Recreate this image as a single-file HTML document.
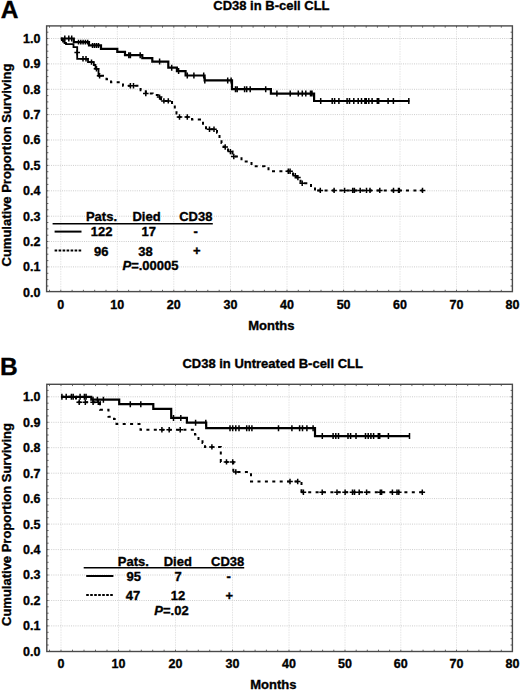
<!DOCTYPE html>
<html><head><meta charset="utf-8"><title>CD38 survival</title>
<style>
html,body{margin:0;padding:0;background:#fff;}
svg{display:block;}
text{font-family:"Liberation Sans", sans-serif;font-weight:bold;fill:#000;stroke:#000;stroke-width:0.35px;}
.tl{font-size:12.5px;}
.ti{font-size:13px;}
.le{font-size:24.5px;}
.mo{font-size:13px;}
.yl{font-size:13px;}
.lg{font-size:13px;}
</style></head>
<body>
<svg width="520" height="691" viewBox="0 0 520 691">
<rect width="520" height="691" fill="#fff"/>
<path d="M60.8,25.9V291.6M117.3,25.9V291.6M173.8,25.9V291.6M230.5,25.9V291.6M287.0,25.9V291.6M343.6,25.9V291.6M400.0,25.9V291.6M456.5,25.9V291.6" stroke="#e4e4e4" stroke-width="1" stroke-dasharray="1.5 1" fill="none"/>
<path d="M46.6,266.9H512.4M46.6,241.5H512.4M46.6,216.2H512.4M46.6,190.8H512.4M46.6,165.4H512.4M46.6,140.0H512.4M46.6,114.6H512.4M46.6,89.3H512.4M46.6,63.9H512.4M46.6,38.5H512.4" stroke="#cdcdcd" stroke-width="1" stroke-dasharray="1 1.2" fill="none"/>
<path d="M49.5,291.6v-1.8M49.5,25.9v1.8M60.8,291.6v-1.8M60.8,25.9v1.8M72.1,291.6v-1.8M72.1,25.9v1.8M83.4,291.6v-1.8M83.4,25.9v1.8M94.7,291.6v-1.8M94.7,25.9v1.8M106.0,291.6v-1.8M106.0,25.9v1.8M117.3,291.6v-1.8M117.3,25.9v1.8M128.6,291.6v-1.8M128.6,25.9v1.8M139.9,291.6v-1.8M139.9,25.9v1.8M151.2,291.6v-1.8M151.2,25.9v1.8M162.5,291.6v-1.8M162.5,25.9v1.8M173.8,291.6v-1.8M173.8,25.9v1.8M185.1,291.6v-1.8M185.1,25.9v1.8M196.5,291.6v-1.8M196.5,25.9v1.8M207.8,291.6v-1.8M207.8,25.9v1.8M219.2,291.6v-1.8M219.2,25.9v1.8M230.5,291.6v-1.8M230.5,25.9v1.8M241.8,291.6v-1.8M241.8,25.9v1.8M253.1,291.6v-1.8M253.1,25.9v1.8M264.4,291.6v-1.8M264.4,25.9v1.8M275.7,291.6v-1.8M275.7,25.9v1.8M287.0,291.6v-1.8M287.0,25.9v1.8M298.3,291.6v-1.8M298.3,25.9v1.8M309.6,291.6v-1.8M309.6,25.9v1.8M321.0,291.6v-1.8M321.0,25.9v1.8M332.3,291.6v-1.8M332.3,25.9v1.8M343.6,291.6v-1.8M343.6,25.9v1.8M354.9,291.6v-1.8M354.9,25.9v1.8M366.2,291.6v-1.8M366.2,25.9v1.8M377.4,291.6v-1.8M377.4,25.9v1.8M388.7,291.6v-1.8M388.7,25.9v1.8M400.0,291.6v-1.8M400.0,25.9v1.8M411.3,291.6v-1.8M411.3,25.9v1.8M422.6,291.6v-1.8M422.6,25.9v1.8M433.9,291.6v-1.8M433.9,25.9v1.8M445.2,291.6v-1.8M445.2,25.9v1.8M456.5,291.6v-1.8M456.5,25.9v1.8M467.7,291.6v-1.8M467.7,25.9v1.8M478.9,291.6v-1.8M478.9,25.9v1.8M490.1,291.6v-1.8M490.1,25.9v1.8M501.3,291.6v-1.8M501.3,25.9v1.8M46.6,286.0h1.8M512.4,286.0h-1.8M46.6,279.6h1.8M512.4,279.6h-1.8M46.6,273.3h1.8M512.4,273.3h-1.8M46.6,266.9h1.8M512.4,266.9h-1.8M46.6,260.6h1.8M512.4,260.6h-1.8M46.6,254.2h1.8M512.4,254.2h-1.8M46.6,247.9h1.8M512.4,247.9h-1.8M46.6,241.5h1.8M512.4,241.5h-1.8M46.6,235.2h1.8M512.4,235.2h-1.8M46.6,228.9h1.8M512.4,228.9h-1.8M46.6,222.5h1.8M512.4,222.5h-1.8M46.6,216.2h1.8M512.4,216.2h-1.8M46.6,209.8h1.8M512.4,209.8h-1.8M46.6,203.5h1.8M512.4,203.5h-1.8M46.6,197.1h1.8M512.4,197.1h-1.8M46.6,190.8h1.8M512.4,190.8h-1.8M46.6,184.4h1.8M512.4,184.4h-1.8M46.6,178.1h1.8M512.4,178.1h-1.8M46.6,171.7h1.8M512.4,171.7h-1.8M46.6,165.4h1.8M512.4,165.4h-1.8M46.6,159.1h1.8M512.4,159.1h-1.8M46.6,152.7h1.8M512.4,152.7h-1.8M46.6,146.4h1.8M512.4,146.4h-1.8M46.6,140.0h1.8M512.4,140.0h-1.8M46.6,133.7h1.8M512.4,133.7h-1.8M46.6,127.3h1.8M512.4,127.3h-1.8M46.6,121.0h1.8M512.4,121.0h-1.8M46.6,114.6h1.8M512.4,114.6h-1.8M46.6,108.3h1.8M512.4,108.3h-1.8M46.6,101.9h1.8M512.4,101.9h-1.8M46.6,95.6h1.8M512.4,95.6h-1.8M46.6,89.3h1.8M512.4,89.3h-1.8M46.6,82.9h1.8M512.4,82.9h-1.8M46.6,76.6h1.8M512.4,76.6h-1.8M46.6,70.2h1.8M512.4,70.2h-1.8M46.6,63.9h1.8M512.4,63.9h-1.8M46.6,57.5h1.8M512.4,57.5h-1.8M46.6,51.2h1.8M512.4,51.2h-1.8M46.6,44.8h1.8M512.4,44.8h-1.8M46.6,38.5h1.8M512.4,38.5h-1.8M46.6,32.2h1.8M512.4,32.2h-1.8" stroke="#666" stroke-width="1" fill="none"/>
<rect x="46.6" y="25.9" width="465.8" height="265.7" fill="none" stroke="#4a4a4a" stroke-width="1.4"/>
<text x="40.4" y="296.7" text-anchor="end" class="tl">0.0</text>
<text x="40.4" y="271.3" text-anchor="end" class="tl">0.1</text>
<text x="40.4" y="245.9" text-anchor="end" class="tl">0.2</text>
<text x="40.4" y="220.6" text-anchor="end" class="tl">0.3</text>
<text x="40.4" y="195.2" text-anchor="end" class="tl">0.4</text>
<text x="40.4" y="169.8" text-anchor="end" class="tl">0.5</text>
<text x="40.4" y="144.4" text-anchor="end" class="tl">0.6</text>
<text x="40.4" y="119.0" text-anchor="end" class="tl">0.7</text>
<text x="40.4" y="93.7" text-anchor="end" class="tl">0.8</text>
<text x="40.4" y="68.3" text-anchor="end" class="tl">0.9</text>
<text x="40.4" y="42.9" text-anchor="end" class="tl">1.0</text>
<text x="60.8" y="308.5" text-anchor="middle" class="tl">0</text>
<text x="117.3" y="308.5" text-anchor="middle" class="tl">10</text>
<text x="173.8" y="308.5" text-anchor="middle" class="tl">20</text>
<text x="230.5" y="308.5" text-anchor="middle" class="tl">30</text>
<text x="287.0" y="308.5" text-anchor="middle" class="tl">40</text>
<text x="343.6" y="308.5" text-anchor="middle" class="tl">50</text>
<text x="400.0" y="308.5" text-anchor="middle" class="tl">60</text>
<text x="456.5" y="308.5" text-anchor="middle" class="tl">70</text>
<text x="512.5" y="308.5" text-anchor="middle" class="tl">80</text>
<text x="271.4" y="9.6" text-anchor="middle" class="ti">CD38 in B-cell CLL</text>
<text x="0.8" y="17.8" class="le">A</text>
<text x="271.3" y="329.7" text-anchor="middle" class="mo">Months</text>
<text transform="translate(11.2,165.0) rotate(-90)" text-anchor="middle" class="yl">Cumulative Proportion Surviving</text>
<path d="M315,190.4H422.5" stroke="#000" stroke-width="2" fill="none" stroke-dasharray="3 4.4" stroke-dashoffset="5.2"/>
<path d="M60.8,38.5H61.8V40H63V41.5H64.5V43H66V44.2H73.5V47.2H77.2V58.8H88V62.1H93.8V65H95.5V68.8H98.5V75.8H101" stroke="#000" stroke-width="1.8" fill="none"/>
<path d="M60.8,38.5H73.8V42.2H89V45.4H101V48.8H117.3V51.8H125V55.2H142.3V58.2H152.3V61.6H168.3V67.7H176.9V71.1H185.6V75.5H204.6V80.4H232V89.2H270.9V93.6H314.1V101H409.5" stroke="#000" stroke-width="2.2" fill="none"/>
<path d="M64.8,35.5v6.0M68.8,35.5v6.0M71.7,35.5v6.0M78.5,39.8v4.8M80.8,39.8v4.8M83.1,39.8v4.8M85.4,39.8v4.8M87.7,39.8v4.8M92.5,42.9v5.0M94.5,42.9v5.0M96.5,42.9v5.0M98.5,42.9v5.0M128.8,52.2v6.0M130.4,52.2v6.0M140.2,52.2v6.0M159.6,58.6v6.0M171.7,64.7v6.0M178.6,68.1v6.0M187.3,72.5v6.0M193.9,72.5v6.0M203.7,72.5v6.0M204.8,77.4v6.0M227.7,77.4v6.0M231.1,77.4v6.0M235.5,86.2v6.0M237.2,86.2v6.0M244.6,86.2v6.0M246.7,86.2v6.0M250.2,86.2v6.0M265.7,86.2v6.0M276.9,90.6v6.0M290.2,90.6v6.0M298.3,90.6v6.0M302.3,90.6v6.0M305.8,90.6v6.0M310.5,90.6v6.0M312.0,90.6v6.0M320.7,98.0v6.0M332.2,98.0v6.0M334.6,98.0v6.0M338.9,98.0v6.0M347.1,98.0v6.0M349.5,98.0v6.0M353.8,98.0v6.0M358.2,98.0v6.0M361.5,98.0v6.0M364.9,98.0v6.0M366.3,98.0v6.0M368.8,98.0v6.0M372.1,98.0v6.0M377.3,98.0v6.0M378.7,98.0v6.0M388.1,98.0v6.0M393.4,98.0v6.0M408.8,98.0v6.0" stroke="#000" stroke-width="1.5" fill="none"/>
<path d="M101,75.8H106.5V79.2H111V82.3H123V85.8H140.6V90.2H145.8V93.6H152.7V95H159.6V97.1H161V100.9H172V104.9H174.8V110H176.5V113.5H178.6V117H192V119.6H200V121H203V124.9H206V129.2H217V132.7H219.5V138.7H221.5V143H223.8V147H228V151.6H232.5V156.5H240V157.2H241.5V161.5H250.5V162H251.5V166.3H264.5V167.2H268.5V171.2H293V175.8H297V177.6H300.5V183.3H311V187.2H315V190.4" stroke="#000" stroke-width="2" fill="none" stroke-dasharray="3 4.4"/>
<path d="M77.2,49.9v5.4M74.4,52.6h5.6M83.0,56.1v5.4M80.2,58.8h5.6M86.0,56.1v5.4M83.2,58.8h5.6M91.5,59.4v5.4M88.7,62.1h5.6M96.5,66.1v5.4M93.7,68.8h5.6M99.6,73.1v5.4M96.8,75.8h5.6M130.4,83.1v5.4M127.6,85.8h5.6M133.5,83.1v5.4M130.7,85.8h5.6M145.8,90.9v5.4M143.0,93.6h5.6M159.6,94.4v5.4M156.8,97.1h5.6M163.9,98.2v5.4M161.1,100.9h5.6M168.3,98.2v5.4M165.5,100.9h5.6M179.5,114.3v5.4M176.7,117.0h5.6M187.3,114.3v5.4M184.5,117.0h5.6M209.5,126.5v5.4M206.7,129.2h5.6M214.0,126.5v5.4M211.2,129.2h5.6M225.2,144.3v5.4M222.4,147.0h5.6M230.4,148.9v5.4M227.6,151.6h5.6M233.8,153.8v5.4M231.0,156.5h5.6M288.3,168.5v5.4M285.5,171.2h5.6M290.1,168.5v5.4M287.3,171.2h5.6M295.3,173.1v5.4M292.5,175.8h5.6M297.9,174.9v5.4M295.1,177.6h5.6M302.2,180.6v5.4M299.4,183.3h5.6M320.3,187.7v5.4M317.5,190.4h5.6M334.1,187.7v5.4M331.3,190.4h5.6M344.6,187.7v5.4M341.8,190.4h5.6M352.7,187.7v5.4M349.9,190.4h5.6M354.4,187.7v5.4M351.6,190.4h5.6M360.2,187.7v5.4M357.4,190.4h5.6M366.5,187.7v5.4M363.7,190.4h5.6M370.0,187.7v5.4M367.2,190.4h5.6M379.8,187.7v5.4M377.0,190.4h5.6M393.5,187.7v5.4M390.7,190.4h5.6M398.5,187.7v5.4M395.7,190.4h5.6M399.3,187.7v5.4M396.5,190.4h5.6M422.5,187.7v5.4M419.7,190.4h5.6" stroke="#000" stroke-width="1.5" fill="none"/>
<path d="M52.6,223.7H212.8" stroke="#000" stroke-width="1.6"/>
<path d="M54.6,231.6H81.5" stroke="#000" stroke-width="2"/>
<path d="M54.6,250.6H81.5" stroke="#000" stroke-width="2" stroke-dasharray="2.6 1.4"/>
<text x="101.5" y="221.4" text-anchor="middle" class="lg">Pats.</text>
<text x="146.5" y="221.4" text-anchor="middle" class="lg">Died</text>
<text x="195.8" y="221.4" text-anchor="middle" class="lg">CD38</text>
<text x="101.7" y="236.2" text-anchor="middle" class="lg">122</text>
<text x="148.8" y="236.2" text-anchor="middle" class="lg">17</text>
<text x="195.6" y="236.2" text-anchor="middle" class="lg">-</text>
<text x="101.2" y="255.6" text-anchor="middle" class="lg">96</text>
<text x="145.5" y="255.6" text-anchor="middle" class="lg">38</text>
<text x="196.8" y="254.6" text-anchor="middle" class="lg">+</text>
<text x="150.5" y="270.4" text-anchor="middle" class="lg"><tspan font-style="italic">P</tspan>=.00005</text>
<path d="M61.0,384.3V651.5M118.5,384.3V651.5M175.5,384.3V651.5M232.5,384.3V651.5M289.0,384.3V651.5M345.0,384.3V651.5M400.8,384.3V651.5M456.5,384.3V651.5" stroke="#e4e4e4" stroke-width="1" stroke-dasharray="1.5 1" fill="none"/>
<path d="M46.8,625.9H512.4M46.8,600.5H512.4M46.8,575.0H512.4M46.8,549.6H512.4M46.8,524.1H512.4M46.8,498.6H512.4M46.8,473.2H512.4M46.8,447.7H512.4M46.8,422.3H512.4M46.8,396.8H512.4" stroke="#cdcdcd" stroke-width="1" stroke-dasharray="1 1.2" fill="none"/>
<path d="M49.5,651.5v-1.8M49.5,384.3v1.8M61.0,651.5v-1.8M61.0,384.3v1.8M72.5,651.5v-1.8M72.5,384.3v1.8M84.0,651.5v-1.8M84.0,384.3v1.8M95.5,651.5v-1.8M95.5,384.3v1.8M107.0,651.5v-1.8M107.0,384.3v1.8M118.5,651.5v-1.8M118.5,384.3v1.8M129.9,651.5v-1.8M129.9,384.3v1.8M141.3,651.5v-1.8M141.3,384.3v1.8M152.7,651.5v-1.8M152.7,384.3v1.8M164.1,651.5v-1.8M164.1,384.3v1.8M175.5,651.5v-1.8M175.5,384.3v1.8M186.9,651.5v-1.8M186.9,384.3v1.8M198.3,651.5v-1.8M198.3,384.3v1.8M209.7,651.5v-1.8M209.7,384.3v1.8M221.1,651.5v-1.8M221.1,384.3v1.8M232.5,651.5v-1.8M232.5,384.3v1.8M243.8,651.5v-1.8M243.8,384.3v1.8M255.1,651.5v-1.8M255.1,384.3v1.8M266.4,651.5v-1.8M266.4,384.3v1.8M277.7,651.5v-1.8M277.7,384.3v1.8M289.0,651.5v-1.8M289.0,384.3v1.8M300.2,651.5v-1.8M300.2,384.3v1.8M311.4,651.5v-1.8M311.4,384.3v1.8M322.6,651.5v-1.8M322.6,384.3v1.8M333.8,651.5v-1.8M333.8,384.3v1.8M345.0,651.5v-1.8M345.0,384.3v1.8M356.2,651.5v-1.8M356.2,384.3v1.8M367.3,651.5v-1.8M367.3,384.3v1.8M378.5,651.5v-1.8M378.5,384.3v1.8M389.6,651.5v-1.8M389.6,384.3v1.8M400.8,651.5v-1.8M400.8,384.3v1.8M411.9,651.5v-1.8M411.9,384.3v1.8M423.1,651.5v-1.8M423.1,384.3v1.8M434.2,651.5v-1.8M434.2,384.3v1.8M445.4,651.5v-1.8M445.4,384.3v1.8M456.5,651.5v-1.8M456.5,384.3v1.8M467.7,651.5v-1.8M467.7,384.3v1.8M478.9,651.5v-1.8M478.9,384.3v1.8M490.1,651.5v-1.8M490.1,384.3v1.8M501.3,651.5v-1.8M501.3,384.3v1.8M46.8,645.0h1.8M512.4,645.0h-1.8M46.8,638.7h1.8M512.4,638.7h-1.8M46.8,632.3h1.8M512.4,632.3h-1.8M46.8,625.9h1.8M512.4,625.9h-1.8M46.8,619.6h1.8M512.4,619.6h-1.8M46.8,613.2h1.8M512.4,613.2h-1.8M46.8,606.8h1.8M512.4,606.8h-1.8M46.8,600.5h1.8M512.4,600.5h-1.8M46.8,594.1h1.8M512.4,594.1h-1.8M46.8,587.8h1.8M512.4,587.8h-1.8M46.8,581.4h1.8M512.4,581.4h-1.8M46.8,575.0h1.8M512.4,575.0h-1.8M46.8,568.7h1.8M512.4,568.7h-1.8M46.8,562.3h1.8M512.4,562.3h-1.8M46.8,555.9h1.8M512.4,555.9h-1.8M46.8,549.6h1.8M512.4,549.6h-1.8M46.8,543.2h1.8M512.4,543.2h-1.8M46.8,536.8h1.8M512.4,536.8h-1.8M46.8,530.5h1.8M512.4,530.5h-1.8M46.8,524.1h1.8M512.4,524.1h-1.8M46.8,517.7h1.8M512.4,517.7h-1.8M46.8,511.4h1.8M512.4,511.4h-1.8M46.8,505.0h1.8M512.4,505.0h-1.8M46.8,498.6h1.8M512.4,498.6h-1.8M46.8,492.3h1.8M512.4,492.3h-1.8M46.8,485.9h1.8M512.4,485.9h-1.8M46.8,479.5h1.8M512.4,479.5h-1.8M46.8,473.2h1.8M512.4,473.2h-1.8M46.8,466.8h1.8M512.4,466.8h-1.8M46.8,460.4h1.8M512.4,460.4h-1.8M46.8,454.1h1.8M512.4,454.1h-1.8M46.8,447.7h1.8M512.4,447.7h-1.8M46.8,441.4h1.8M512.4,441.4h-1.8M46.8,435.0h1.8M512.4,435.0h-1.8M46.8,428.6h1.8M512.4,428.6h-1.8M46.8,422.3h1.8M512.4,422.3h-1.8M46.8,415.9h1.8M512.4,415.9h-1.8M46.8,409.5h1.8M512.4,409.5h-1.8M46.8,403.2h1.8M512.4,403.2h-1.8M46.8,396.8h1.8M512.4,396.8h-1.8M46.8,390.4h1.8M512.4,390.4h-1.8" stroke="#666" stroke-width="1" fill="none"/>
<rect x="46.8" y="384.3" width="465.6" height="267.2" fill="none" stroke="#4a4a4a" stroke-width="1.4"/>
<text x="40.4" y="655.8" text-anchor="end" class="tl">0.0</text>
<text x="40.4" y="630.3" text-anchor="end" class="tl">0.1</text>
<text x="40.4" y="604.9" text-anchor="end" class="tl">0.2</text>
<text x="40.4" y="579.4" text-anchor="end" class="tl">0.3</text>
<text x="40.4" y="554.0" text-anchor="end" class="tl">0.4</text>
<text x="40.4" y="528.5" text-anchor="end" class="tl">0.5</text>
<text x="40.4" y="503.0" text-anchor="end" class="tl">0.6</text>
<text x="40.4" y="477.6" text-anchor="end" class="tl">0.7</text>
<text x="40.4" y="452.1" text-anchor="end" class="tl">0.8</text>
<text x="40.4" y="426.7" text-anchor="end" class="tl">0.9</text>
<text x="40.4" y="401.2" text-anchor="end" class="tl">1.0</text>
<text x="61.0" y="667.9" text-anchor="middle" class="tl">0</text>
<text x="118.5" y="667.9" text-anchor="middle" class="tl">10</text>
<text x="175.5" y="667.9" text-anchor="middle" class="tl">20</text>
<text x="232.5" y="667.9" text-anchor="middle" class="tl">30</text>
<text x="289.0" y="667.9" text-anchor="middle" class="tl">40</text>
<text x="345.0" y="667.9" text-anchor="middle" class="tl">50</text>
<text x="400.8" y="667.9" text-anchor="middle" class="tl">60</text>
<text x="456.5" y="667.9" text-anchor="middle" class="tl">70</text>
<text x="512.5" y="667.9" text-anchor="middle" class="tl">80</text>
<text x="272.7" y="367.6" text-anchor="middle" class="ti">CD38 in Untreated B-cell CLL</text>
<text x="0.0" y="375.2" class="le">B</text>
<text x="273.3" y="689.4" text-anchor="middle" class="mo">Months</text>
<text transform="translate(11.2,524.5) rotate(-90)" text-anchor="middle" class="yl">Cumulative Proportion Surviving</text>
<path d="M301.5,492.3H422.4" stroke="#000" stroke-width="2" fill="none" stroke-dasharray="3 4.4" stroke-dashoffset="0.7"/>
<path d="M61,396.8H91.3V399.7H119.2V404.2H153.3V408.8H171.2V417.9H186.9V422.7H206.2V428.2H315V436.1H409.8" stroke="#000" stroke-width="2.2" fill="none"/>
<path d="M61.9,393.8v6.0M66.2,393.8v6.0M71.4,393.8v6.0M73.2,393.8v6.0M80.1,393.8v6.0M84.4,393.8v6.0M86.1,393.8v6.0M93.0,396.7v6.0M97.4,396.7v6.0M103.4,396.7v6.0M130.3,401.2v6.0M140.8,401.2v6.0M173.5,414.9v6.0M180.8,414.9v6.0M195.6,419.7v6.0M205.8,419.7v6.0M230.0,425.2v6.0M232.7,425.2v6.0M235.8,425.2v6.0M239.0,425.2v6.0M246.7,425.2v6.0M249.2,425.2v6.0M251.9,425.2v6.0M278.5,425.2v6.0M291.9,425.2v6.0M299.6,425.2v6.0M302.5,425.2v6.0M306.9,425.2v6.0M313.1,425.2v6.0M322.3,433.1v6.0M333.1,433.1v6.0M335.8,433.1v6.0M338.5,433.1v6.0M348.0,433.1v6.0M350.6,433.1v6.0M356.0,433.1v6.0M365.5,433.1v6.0M368.2,433.1v6.0M370.9,433.1v6.0M373.6,433.1v6.0M378.3,433.1v6.0M379.7,433.1v6.0M388.4,433.1v6.0M409.5,433.1v6.0" stroke="#000" stroke-width="1.5" fill="none"/>
<path d="M61,396.8H76V402.3H100V409.7H108.5V416.7H114V419.1H116.5V423.9H140.5V429.8H195V434.6H198.5V439H202.5V442.9H205V446.9H220.8V461.9H233.3V471.9H251V481.5H301.5V492.3" stroke="#000" stroke-width="2" fill="none" stroke-dasharray="3 4.4"/>
<path d="M79.2,399.6v5.4M76.4,402.3h5.6M85.3,399.6v5.4M82.5,402.3h5.6M93.1,399.6v5.4M90.3,402.3h5.6M98.3,399.6v5.4M95.5,402.3h5.6M161.9,427.1v5.4M159.1,429.8h5.6M169.2,427.1v5.4M166.4,429.8h5.6M180.2,427.1v5.4M177.4,429.8h5.6M211.9,444.2v5.4M209.1,446.9h5.6M226.5,459.2v5.4M223.7,461.9h5.6M232.7,459.2v5.4M229.9,461.9h5.6M235.8,469.2v5.4M233.0,471.9h5.6M290.0,478.8v5.4M287.2,481.5h5.6M297.7,478.8v5.4M294.9,481.5h5.6M303.4,489.6v5.4M300.6,492.3h5.6M322.2,489.6v5.4M319.4,492.3h5.6M337.0,489.6v5.4M334.2,492.3h5.6M345.1,489.6v5.4M342.3,492.3h5.6M352.5,489.6v5.4M349.7,492.3h5.6M354.5,489.6v5.4M351.7,492.3h5.6M359.2,489.6v5.4M356.4,492.3h5.6M366.6,489.6v5.4M363.8,492.3h5.6M380.3,489.6v5.4M377.5,492.3h5.6M381.6,489.6v5.4M378.8,492.3h5.6M392.4,489.6v5.4M389.6,492.3h5.6M397.0,489.6v5.4M394.2,492.3h5.6M398.8,489.6v5.4M396.0,492.3h5.6M422.3,489.6v5.4M419.5,492.3h5.6" stroke="#000" stroke-width="1.5" fill="none"/>
<path d="M83.7,567.8H244.2" stroke="#000" stroke-width="1.6"/>
<path d="M86.2,576H113.4" stroke="#000" stroke-width="2"/>
<path d="M86.2,595H113.4" stroke="#000" stroke-width="2" stroke-dasharray="2.6 1.4"/>
<text x="133.4" y="565.7" text-anchor="middle" class="lg">Pats.</text>
<text x="177.8" y="565.7" text-anchor="middle" class="lg">Died</text>
<text x="227.7" y="565.7" text-anchor="middle" class="lg">CD38</text>
<text x="133.8" y="580.6" text-anchor="middle" class="lg">95</text>
<text x="178" y="580.6" text-anchor="middle" class="lg">7</text>
<text x="228.6" y="580.6" text-anchor="middle" class="lg">-</text>
<text x="133" y="599.8" text-anchor="middle" class="lg">47</text>
<text x="178" y="599.8" text-anchor="middle" class="lg">12</text>
<text x="229.4" y="599.8" text-anchor="middle" class="lg">+</text>
<text x="171.5" y="614.5" text-anchor="middle" class="lg"><tspan font-style="italic">P</tspan>=.02</text>
</svg>
</body></html>
